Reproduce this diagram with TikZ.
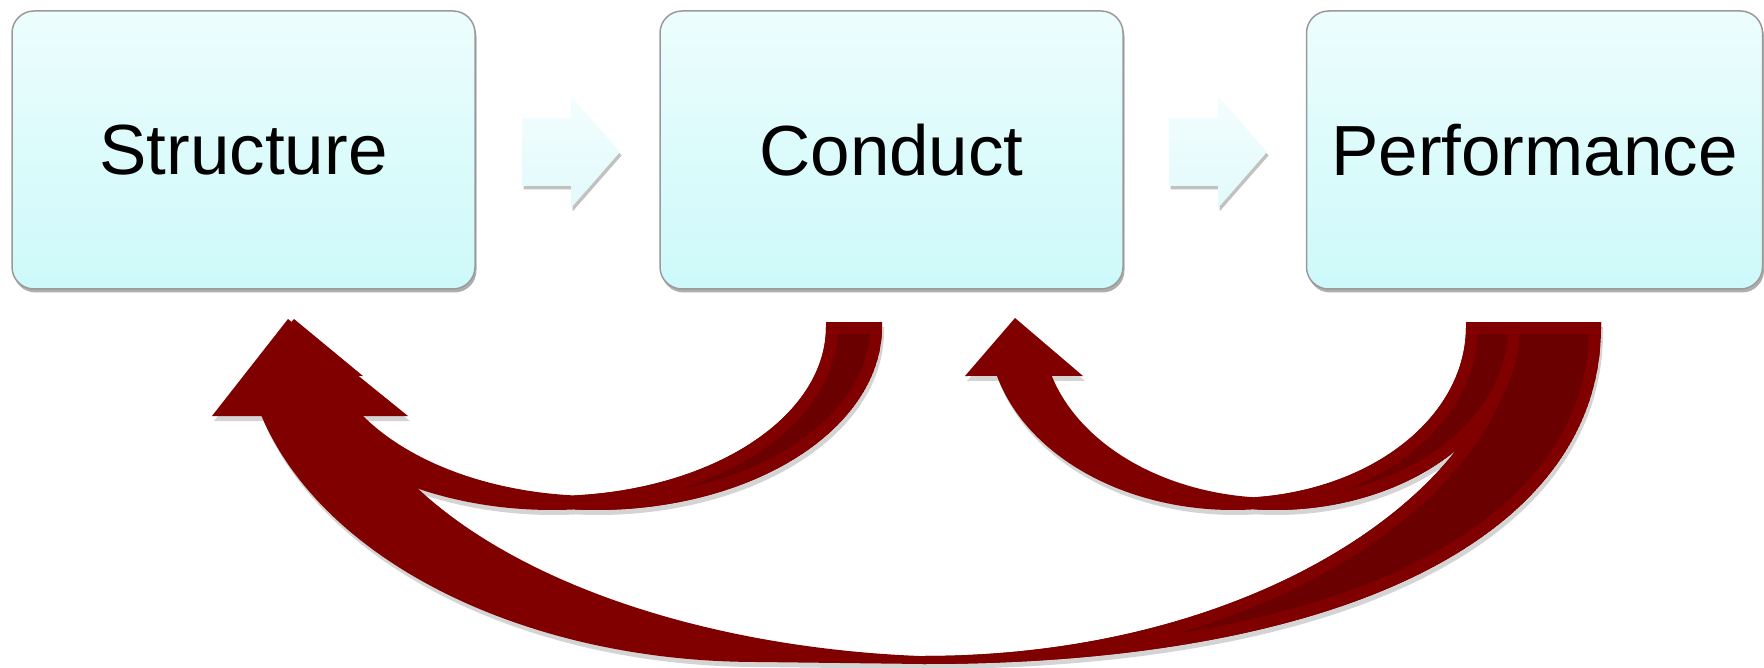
\documentclass[tikz,border=0pt]{standalone}
\usepackage{fontspec}
\setmainfont{Liberation Sans}
\usetikzlibrary{shadows}
\definecolor{arrowred}{HTML}{800000}
\definecolor{arrowdark}{HTML}{6A0000}
\definecolor{boxtop}{HTML}{EDFDFD}
\definecolor{boxbot}{HTML}{CDF9FA}
\definecolor{boxline}{HTML}{9A9A9A}
\definecolor{shadowgray}{HTML}{D4D4D4}
\definecolor{smalltop}{HTML}{F3FDFD}
\definecolor{smallbot}{HTML}{E2FAFB}
% Performance -> Structure
\newcommand{\bigfront}{(288,319) -- (408,416) -- plot[domain=164.35:94.09,samples=60,variable=\t]({968+631*cos(\t)},{327+330*sin(\t)}) -- (923,664) -- (757,662) -- plot[domain=90:164.59,samples=60,variable=\t]({757+514*cos(\t)},{327+335*sin(\t)}) -- (212,416) -- cycle}
\newcommand{\bigback}{(1505,322) -- (1601,322) -- (1601,327) .. controls (1601,536) and (1343,664) .. (923,664) -- (923,656) .. controls (1272,656) and (1505,475) .. (1505,327) -- cycle}
% Performance -> Conduct
\newcommand{\perffront}{(1015,318) -- (1083,376) -- plot[domain=163.35:95.17,samples=60,variable=\t]({1275+233*cos(\t)},{327+171*sin(\t)}) -- plot[domain=85.08:164.47,samples=60,variable=\t]({1233+245*cos(\t)},{327+183*sin(\t)}) -- (965,376) -- cycle}
\newcommand{\perfback}{(1466,322) -- (1520,322) -- plot[domain=0:94.92,samples=60,variable=\t]({1275+245*cos(\t)},{327+183*sin(\t)}) -- plot[domain=84.83:0,samples=60,variable=\t]({1233+233*cos(\t)},{327+171*sin(\t)}) -- cycle}
% Conduct -> Structure
\newcommand{\condfront}{(294,319) -- (363,376) -- plot[domain=163.15:94.61,samples=60,variable=\t]({596+274*cos(\t)},{327+169*sin(\t)}) -- plot[domain=85.59:164.47,samples=60,variable=\t]({552+286*cos(\t)},{327+183*sin(\t)}) -- (244,376) -- cycle}
\newcommand{\condback}{(826,322) -- (882,322) -- plot[domain=0:94.41,samples=60,variable=\t]({596+286*cos(\t)},{327+183*sin(\t)}) -- plot[domain=85.39:0,samples=60,variable=\t]({552+274*cos(\t)},{327+169*sin(\t)}) -- cycle}
\begin{document}
\begin{tikzpicture}[x=1pt,y=-1pt,
  box/.style={rounded corners=22pt, draw=boxline, line width=1.5pt,
    top color=boxtop, bottom color=boxbot, minimum width=463pt,
    minimum height=278pt, inner sep=0pt, font=\fontsize{71}{80}\selectfont,
    drop shadow={shadow xshift=1.5pt, shadow yshift=-3.5pt, opacity=0.45, fill=black!70}},
  blockarrow/.style={top color=smalltop, bottom color=smallbot,
    drop shadow={shadow xshift=1.5pt, shadow yshift=-3.5pt, opacity=0.35, fill=black!70}},
  arrowshadow/.style={fill=shadowgray},
  frontpart/.style={fill=arrowred},
  backfill/.style={fill=arrowdark},
  backrim/.style={draw=arrowred, line width=24pt, line join=round}
]
\useasboundingbox (0,0) rectangle (1764,668);

% boxes
\node[box] (structure) at (243.5,150) {Structure};
\node[box] (conduct) at (891.5,150) {Conduct};
\node[box, minimum width=456pt] (performance) at (1534.5,150) {Performance};

% light block arrows between the boxes
\path[blockarrow] (522,118) -- (571,118) -- (571,96) -- (620,152) -- (571,208) -- (571,186) -- (522,186) -- cycle;
\path[blockarrow] (1169,118) -- (1218,118) -- (1218,96) -- (1267,152) -- (1218,208) -- (1218,186) -- (1169,186) -- cycle;

% shadows of the curved arrows
\begin{scope}[shift={(2,5)}]
  \fill[arrowshadow] \bigback;
  \fill[arrowshadow] \bigfront;
  \fill[arrowshadow] \perfback;
  \fill[arrowshadow] \perffront;
  \fill[arrowshadow] \condback;
  \fill[arrowshadow] \condfront;
\end{scope}

% Performance -> Structure
\begin{scope}
  \clip \bigback;
  \fill[backfill] \bigback;
  \draw[backrim] \bigback;
\end{scope}
\fill[frontpart] \bigfront;

% Performance -> Conduct
\begin{scope}
  \clip \perfback;
  \fill[backfill] \perfback;
  \draw[backrim] \perfback;
\end{scope}
\fill[frontpart] \perffront;

% Conduct -> Structure
\begin{scope}
  \clip \condback;
  \fill[backfill] \condback;
  \draw[backrim] \condback;
\end{scope}
\fill[frontpart] \condfront;
\end{tikzpicture}
\end{document}
